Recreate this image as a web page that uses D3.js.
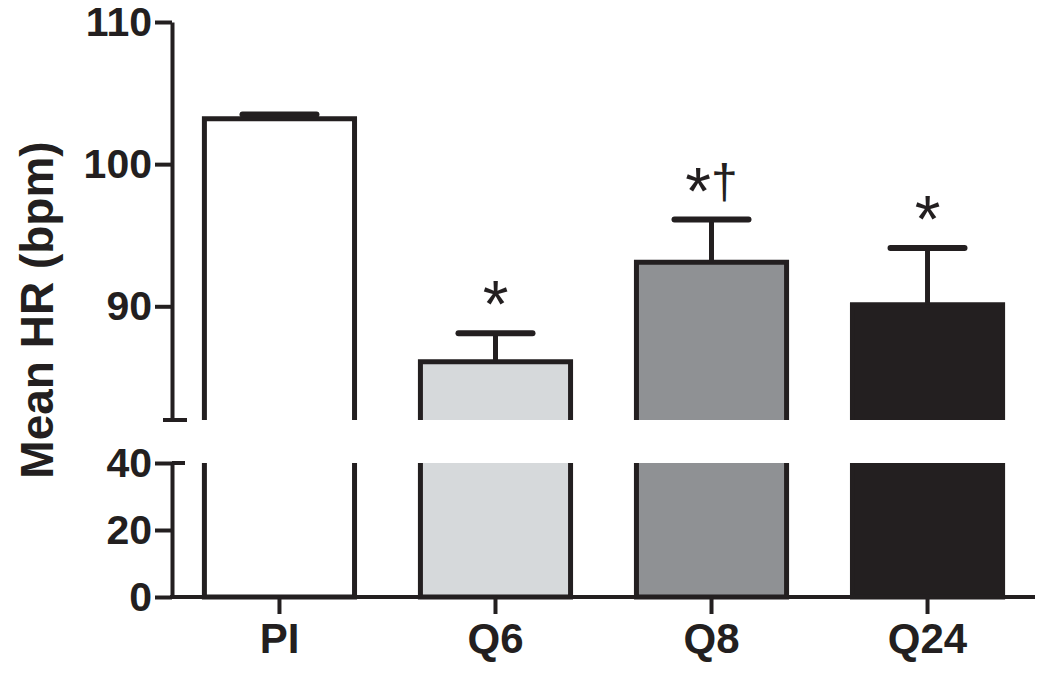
<!DOCTYPE html>
<html>
<head>
<meta charset="utf-8">
<script src="https://cdn.jsdelivr.net/npm/d3@7"></script>
<style>
  body { margin: 0; background: #fff; }
  text { font-family: "Liberation Sans", Arial, sans-serif; fill: #231f20; }
</style>
</head>
<body>
<svg id="chart"></svg>
<script>
// Data
var groups = ["PI", "Q6", "Q8", "Q24"];
var means = [103.2, 86.1, 93.1, 90.1];
var sems = [0.3, 2.0, 3.0, 4.0];
var marks = ["", "*", "*\u2020", "*"];
var fills = ["#ffffff", "#d6d9db", "#8f9194", "#231f20"];
var topTicks = [90, 100, 110];
var botTicks = [0, 20, 40];

// SVG size params
var width = 1050;
var height = 680;
var ink = "#231f20";
var axisX = 172;

var svg = d3.select("#chart")
    .attr("width", width)
    .attr("height", height);

// Scales: broken y axis
var yTop = d3.scaleLinear().domain([82, 110]).range([420, 22]);
var yBot = d3.scaleLinear().domain([0, 40]).range([597, 463]);
var x = d3.scaleBand()
    .domain(groups)
    .range([172, 1035])
    .paddingInner(0.305)
    .paddingOuter(0.15);

// Axes
function styleAxis(g) {
  g.select(".domain").attr("stroke", ink).attr("stroke-width", 4);
  g.selectAll(".tick line").attr("stroke", ink).attr("stroke-width", 4);
  g.selectAll(".tick text")
    .attr("font-size", 41)
    .attr("font-weight", "bold")
    .attr("fill", ink);
}

svg.append("g")
    .attr("transform", "translate(" + axisX + ",0)")
    .call(d3.axisLeft(yTop).tickValues(topTicks).tickSize(17).tickSizeOuter(0).tickPadding(3))
    .call(styleAxis);

svg.append("g")
    .attr("transform", "translate(" + axisX + ",0)")
    .call(d3.axisLeft(yBot).tickValues(botTicks).tickSize(17).tickSizeOuter(0).tickPadding(3))
    .call(styleAxis);

// break caps
svg.append("line")
    .attr("x1", axisX - 9).attr("x2", axisX + 15)
    .attr("y1", yTop(82)).attr("y2", yTop(82))
    .attr("stroke", ink).attr("stroke-width", 4);
svg.append("line")
    .attr("x1", axisX).attr("x2", axisX + 13)
    .attr("y1", yBot(40)).attr("y2", yBot(40))
    .attr("stroke", ink).attr("stroke-width", 4);

// Bars
groups.forEach(function(gname, i) {
  var x0 = x(gname), x1 = x(gname) + x.bandwidth();

  // upper segment
  svg.append("rect")
      .attr("x", x0).attr("width", x.bandwidth())
      .attr("y", yTop(means[i])).attr("height", yTop(82) - yTop(means[i]))
      .attr("fill", fills[i]);
  svg.append("path")
      .attr("d", "M" + x0 + "," + yTop(82) + "V" + yTop(means[i]) + "H" + x1 + "V" + yTop(82))
      .attr("fill", "none").attr("stroke", ink).attr("stroke-width", 5);

  // lower segment
  svg.append("rect")
      .attr("x", x0).attr("width", x.bandwidth())
      .attr("y", yBot(40)).attr("height", yBot(0) - yBot(40))
      .attr("fill", fills[i]);
  svg.append("path")
      .attr("d", "M" + x0 + "," + yBot(40) + "V" + yBot(0) + "H" + x1 + "V" + yBot(40))
      .attr("fill", "none").attr("stroke", ink).attr("stroke-width", 5);

  // error bar
  var cx = x0 + x.bandwidth() / 2;
  var capY = yTop(means[i] + sems[i]);
  svg.append("line")
      .attr("x1", cx).attr("x2", cx)
      .attr("y1", yTop(means[i])).attr("y2", capY)
      .attr("stroke", ink).attr("stroke-width", 5);
  svg.append("line")
      .attr("x1", cx - 37).attr("x2", cx + 37)
      .attr("y1", capY).attr("y2", capY)
      .attr("stroke", ink).attr("stroke-width", 6)
      .attr("stroke-linecap", "round");

  // significance marks
  if (marks[i]) {
    var t = svg.append("text")
        .attr("x", cx).attr("y", capY - 6)
        .attr("text-anchor", "middle");
    marks[i].split("").forEach(function(ch) {
      if (ch === "*") {
        t.append("tspan").attr("font-size", 66).text(ch);
      } else {
        t.append("tspan").attr("font-size", 48).attr("dy", -16).text(ch);
      }
    });
  }
});

// X axis
svg.append("line")
    .attr("x1", axisX - 2).attr("x2", 1035)
    .attr("y1", yBot(0)).attr("y2", yBot(0))
    .attr("stroke", ink).attr("stroke-width", 4);

groups.forEach(function(gname) {
  var cx = x(gname) + x.bandwidth() / 2;
  svg.append("line")
      .attr("x1", cx).attr("x2", cx)
      .attr("y1", yBot(0)).attr("y2", yBot(0) + 17)
      .attr("stroke", ink).attr("stroke-width", 4);
  svg.append("text")
      .attr("x", cx).attr("y", 653)
      .attr("text-anchor", "middle")
      .attr("font-size", 42)
      .attr("font-weight", "bold")
      .text(gname);
});

// Y title
svg.append("text")
    .attr("transform", "translate(53,310) rotate(-90)")
    .attr("text-anchor", "middle")
    .attr("font-size", 46)
    .attr("font-weight", "bold")
    .text("Mean HR (bpm)");
</script>
</body>
</html>
